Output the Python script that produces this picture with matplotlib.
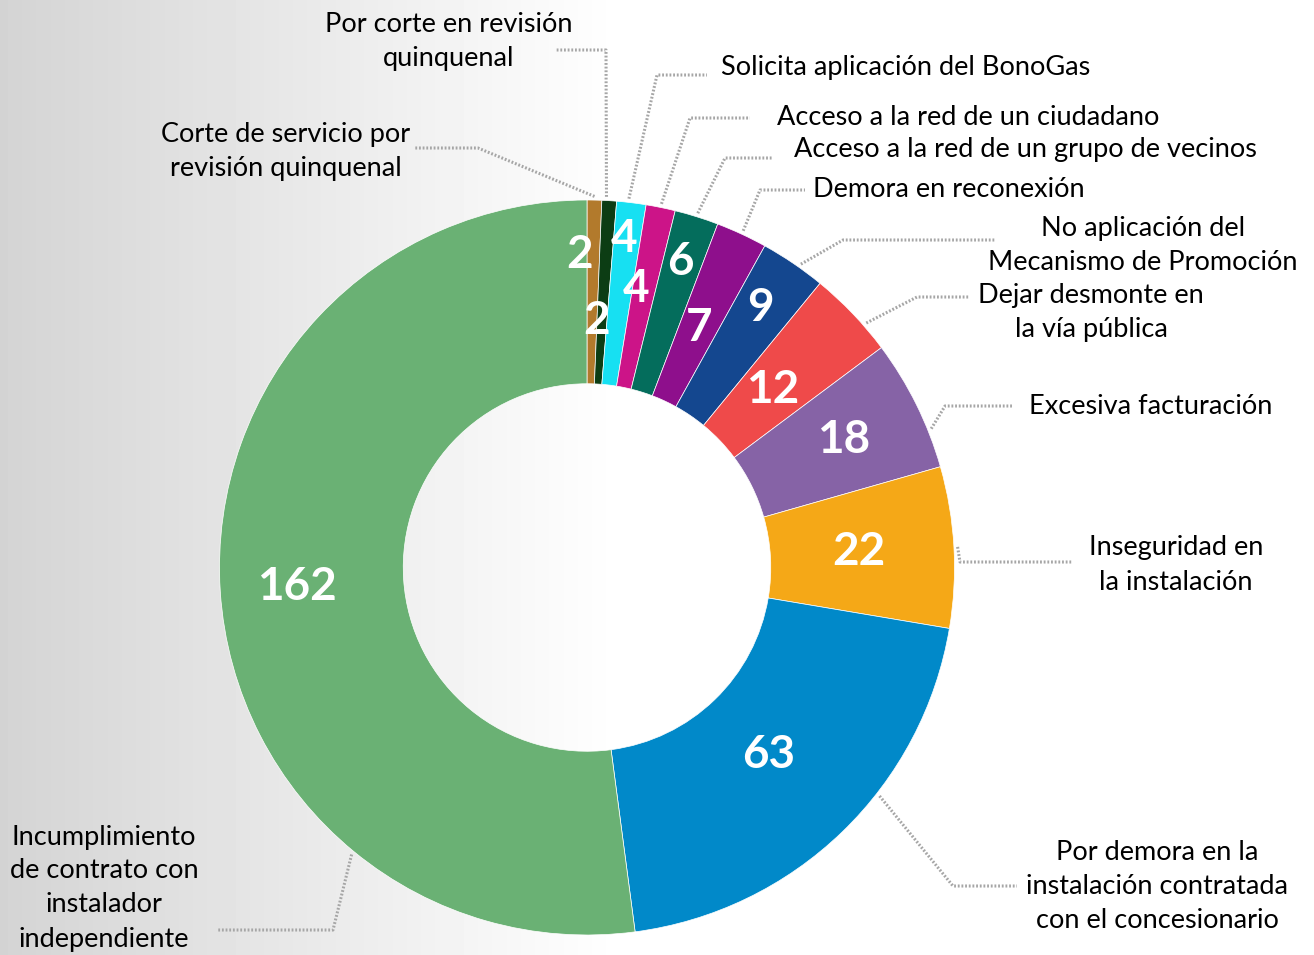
import numpy as np
import matplotlib.pyplot as plt

# datos del gráfico
categorias = ['Corte de servicio por\nrevisión quinquenal',
              'Por corte en revisión\nquinquenal',
              'Solicita aplicación del BonoGas',
              'Acceso a la red de un ciudadano',
              'Acceso a la red de un grupo de vecinos',
              'Demora en reconexión',
              'No aplicación del\nMecanismo de Promoción',
              'Dejar desmonte en\nla vía pública',
              'Excesiva facturación',
              'Inseguridad en\nla instalación',
              'Por demora en la\ninstalación contratada\ncon el concesionario',
              'Incumplimiento\nde contrato con\ninstalador\nindependiente']
valores = [2, 2, 4, 4, 6, 7, 9, 12, 18, 22, 63, 162]
colores = ['#b27a2c', '#0c3d14', '#17e0f2', '#cc1488', '#046d5c', '#8e0f8c',
           '#14478f', '#ef4a4a', '#8663a6', '#f5a817', '#0189c9', '#6ab174']

# disposición (pixeles de la imagen)
W, H = 1314, 955
cx, cy, R = 587, 567.5, 367.5
r_valor = [0.85, 0.67, 0.90, 0.77, 0.87, 0.72, 0.85, 0.70, 0.78, 0.74, 0.71, 0.79]
f_valor = [-0.56, 0.01, 0.38, 0.16, 0.45, 0.52, 0.47, 0.5, 0.5, 0.5, 0.5, 0.5]
ancla = [0.5, 0.3, 0.4, 0.5, 0.5, 0.5, 0.6, 0.68, 0.71, 0.5, 0.39, 0.25]
codo = [(478, 148), (606, 50), (657, 75), (690, 118), (725, 158), (760, 190),
        (843, 240), (917, 297), (945, 406), (960, 562), (953, 886), (333, 930)]
fin = [(415, 148), (555, 50), (707, 75), (750, 118), (772, 158), (805, 190),
       (995, 240), (970, 297), (1013, 406), (1072, 562), (1017, 886), (218, 930)]
pos_texto = [(286, 152), (449, 42), (906, 68), (968, 118), (1025, 150), (949, 190),
             (1143, 246), (1091, 313), (1151, 406), (1176, 565), (1157, 886), (104, 888)]


def px(x, y):
    return ((x - cx) / R, (cy - y) / R)


fig = plt.figure(figsize=(W / 100, H / 100), dpi=100)

# fondo degradado
fondo = fig.add_axes([0, 0, 1, 1])
xs = np.clip(np.arange(W) / 620.0, 0, 1)
fila = 0.83 + 0.17 * xs
fondo.imshow(np.tile(fila, (2, 1)), cmap='gray', vmin=0, vmax=1, aspect='auto',
             extent=[0, 1, 0, 1])
fondo.axis('off')

ax = fig.add_axes([0, 0, 1, 1])
ax.patch.set_visible(False)
ax.pie(valores, colors=colores, startangle=90, counterclock=False, radius=1,
       wedgeprops=dict(width=0.5, edgecolor='white', linewidth=0.5))
ax.set_aspect('auto')
ax.set_xlim((0 - cx) / R, (W - cx) / R)
ax.set_ylim((cy - H) / R, cy / R)
ax.axis('off')

total = sum(valores)
acum = np.concatenate([[0], np.cumsum(valores)])
fuente = 'Lato'
for i, v in enumerate(valores):
    t0 = 360 * acum[i] / total
    t1 = 360 * acum[i + 1] / total
    tm = np.radians(90 - (t0 + f_valor[i] * (t1 - t0)))
    ax.text(r_valor[i] * np.cos(tm), r_valor[i] * np.sin(tm), str(v),
            ha='center', va='center', color='white', fontsize=33,
            fontweight='bold', family=fuente)
    ta = np.radians(90 - (t0 + ancla[i] * (t1 - t0)))
    x0, y0 = 1.01 * np.cos(ta), 1.01 * np.sin(ta)
    xe, ye = px(*codo[i])
    xf, yf = px(*fin[i])
    ax.plot([x0, xe, xf], [y0, ye, yf], color='#a6a6a6', lw=2.2,
            linestyle=(0, (0.6, 0.6)), solid_capstyle='butt')
    xt, yt = px(*pos_texto[i])
    ax.text(xt, yt, categorias[i], ha='center', va='center',
            multialignment='center', fontsize=19.5, family=fuente,
            color='black', linespacing=1.45)

plt.savefig('out.png', dpi=100)
